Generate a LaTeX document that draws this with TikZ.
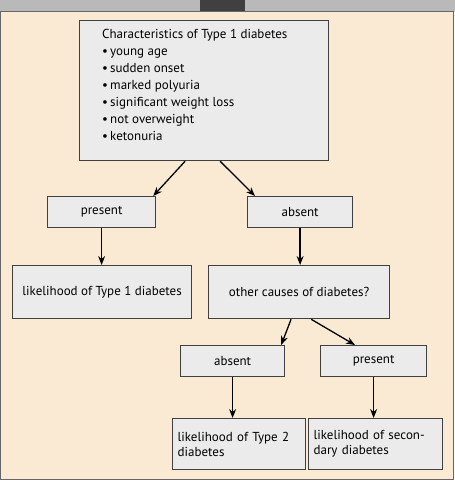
\documentclass[tikz,border=0pt]{standalone}
\usepackage{fontspec}
\setmainfont{PT Sans}
\usetikzlibrary{arrows.meta}
\definecolor{bg}{HTML}{FAEAD3}
\definecolor{bx}{HTML}{EBEBEB}
\begin{document}
\begin{tikzpicture}[x=1pt,y=-1pt,
 box/.style={draw=black!75,line width=1.2pt,fill=bx,inner sep=0pt,font=\fontsize{13}{15}\selectfont},
 ar/.style={-{Stealth[length=9pt,width=7pt]},line width=1.3pt}]
\useasboundingbox (0,0) rectangle (455,480);
\fill[gray!55] (0,0) rectangle (455,12);
\fill[black!75] (200,0) rectangle (245,12);
\draw[fill=bg,draw=black!60,line width=1pt] (0.5,11.5) rectangle (453,479);
\node[box,minimum width=249,minimum height=140,anchor=north west] (top) at (79,20) {};
\node[anchor=north west,align=left,inner sep=0pt,font=\fontsize{13}{17}\selectfont] (tt) at (102,29) {Characteristics of Type 1 diabetes\\
•\,young age\\ •\,sudden onset\\ •\,marked polyuria\\ •\,significant weight loss\\ •\,not overweight\\ •\,ketonuria};
\node[box,minimum width=108,minimum height=31,anchor=north west] (p1) at (47,196) {present};
\node[box,minimum width=105,minimum height=31,anchor=north west] (a1) at (247,196) {absent};
\node[box,minimum width=179,minimum height=53,anchor=north west] (l1) at (12,265) {likelihood of Type 1 diabetes};
\node[box,minimum width=181,minimum height=53,anchor=north west] (oc) at (208,265) {other causes of diabetes?};
\node[box,minimum width=104,minimum height=31,anchor=north west] (a2) at (180,345) {absent};
\node[box,minimum width=106,minimum height=31,anchor=north west] (p2) at (320,345) {present};
\node[box,minimum width=133,minimum height=51,anchor=north west,align=left,text width=129] (l2) at (172,418) {\hspace*{3pt}likelihood of Type 2\\\hspace*{3pt}diabetes};
\node[box,minimum width=134,minimum height=51,anchor=north west,align=left,text width=130] (l3) at (308,418) {\hspace*{3pt}likelihood of secon-\\\hspace*{3pt}dary diabetes};
\draw[ar] ([xshift=-19pt]top.south) -- ([xshift=-3pt]p1.north east);
\draw[ar] ([xshift=16pt]top.south) -- ([xshift=8pt]a1.north west);
\draw[ar] (p1.south) -- (l1.north-|p1.south);
\draw[ar] (a1.south) -- (oc.north-|a1.south);
\draw[ar] ([xshift=-8pt]oc.south) -- ([xshift=-4pt]a2.north east);
\draw[ar] ([xshift=12pt]oc.south) -- ([xshift=35pt]p2.north west);
\draw[ar] (a2.south) -- (l2.north-|a2.south);
\draw[ar] (p2.south) -- (l3.north-|p2.south);
\end{tikzpicture}
\end{document}
